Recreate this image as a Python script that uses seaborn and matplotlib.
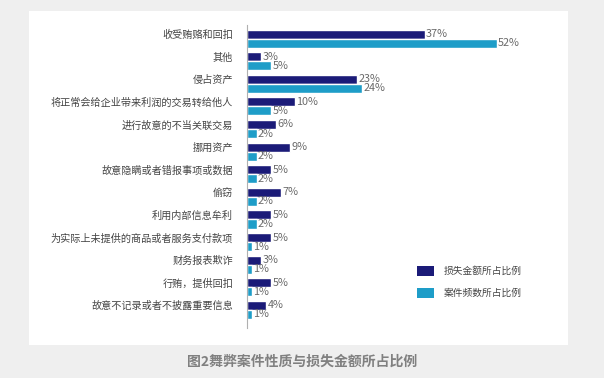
import pandas as pd
import seaborn as sns
import matplotlib.pyplot as plt
from matplotlib.patches import Rectangle, Patch

categories = ["收受贿赂和回扣", "其他", "侵占资产", "将正常会给企业带来利润的交易转给他人",
              "进行故意的不当关联交易", "挪用资产", "故意隐瞒或者错报事项或数据", "偷窃",
              "利用内部信息牟利", "为实际上未提供的商品或者服务支付款项", "财务报表欺诈",
              "行贿，提供回扣", "故意不记录或者不披露重要信息"]
loss_share = [37, 3, 23, 10, 6, 9, 5, 7, 5, 5, 3, 5, 4]
case_share = [52, 5, 24, 5, 2, 2, 2, 2, 2, 1, 1, 1, 1]
series = ["损失金额所占比例", "案件频数所占比例"]
colors = ["#1b1b78", "#1e9dc8"]

df = pd.DataFrame({
    "category": categories * 2,
    "series": [series[0]] * len(categories) + [series[1]] * len(categories),
    "value": loss_share + case_share,
})

sns.set_style("white")
plt.rcParams['font.family'] = ['Noto Sans CJK SC', 'DejaVu Sans']

fig = plt.figure(figsize=(6.04, 3.78), dpi=100, facecolor="#efefef")
# white card behind the chart
fig.patches.append(Rectangle((29 / 604, 1 - 345 / 378), (568 - 29) / 604, (345 - 11) / 378,
                             transform=fig.transFigure, facecolor="white", edgecolor="none", zorder=-5))

ax = fig.add_axes([247 / 604, 1 - 328 / 378, 288 / 604, (328 - 25) / 378])
ax.set_zorder(3)
ax.set_facecolor("none")
sns.barplot(data=df, y="category", x="value", hue="series", order=categories,
            hue_order=series, palette=colors, orient="h", width=0.8,
            saturation=1, legend=False, ax=ax)

for container in ax.containers:
    ax.bar_label(container, labels=[f"{v:g}%" for v in container.datavalues],
                 padding=1, fontsize=7.8, color="#6a6a6a")

ax.set_xlim(0, 60)
ax.set_ylim(12.8, -0.6)
ax.set_yticks([i - 0.2 for i in range(len(categories))])
ax.set_yticklabels(categories, fontsize=7.3, color="#444444")
ax.tick_params(axis="y", length=0, pad=10)
ax.set_xticks([])
ax.set_xlabel("")
ax.set_ylabel("")
for side in ["top", "right", "bottom"]:
    ax.spines[side].set_visible(False)
ax.spines["left"].set_color("#b0b0b0")
ax.spines["left"].set_linewidth(0.8)

handles = [Patch(facecolor=c, edgecolor="none") for c in colors]
leg = fig.legend(handles, series, loc="center left", bbox_to_anchor=(408 / 604, 1 - 282 / 378),
                 frameon=False, fontsize=7, handlelength=1.8, handleheight=1.2,
                 handletextpad=1.0, labelspacing=1.2, labelcolor="#444444")
leg.set_zorder(4)

fig.text(302 / 604, 1 - 362 / 378, "图2舞弊案件性质与损失金额所占比例", ha="center", va="center",
         fontsize=10, fontweight="bold", color="#808080")

fig.savefig("out.png", dpi=100, facecolor=fig.get_facecolor())
